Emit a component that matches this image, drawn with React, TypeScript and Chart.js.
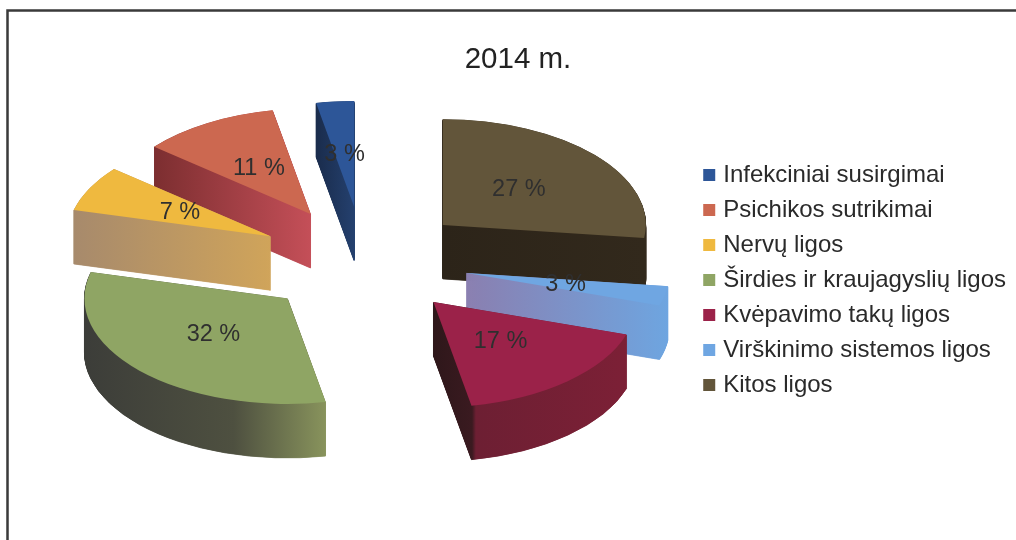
import React, { useEffect, useRef } from "react";
import { Chart, registerables } from "chart.js";

Chart.register(...registerables);

// Listed in legend order; the pie runs counter-clockwise through them from 12 o'clock.
const categories = [
  "Infekciniai susirgimai",
  "Psichikos sutrikimai",
  "Nervų ligos",
  "Širdies ir kraujagyslių ligos",
  "Kvėpavimo takų ligos",
  "Virškinimo sistemos ligos",
  "Kitos ligos",
];
const shares = [3, 11, 7, 32, 17, 3, 27];
const topColors = ["#2d5698", "#cc6850", "#efb93f", "#8fa564", "#9b2249", "#6fa6e2", "#62553a"];
// Side-wall shading, left to right, as [stop, colour] pairs.
const wallShades: [number, string][][] = [
  [[0, "#1a2c4c"], [1, "#24406e"]],
  [[0, "#7c2e30"], [1, "#c44f58"]],
  [[0, "#a78a6c"], [1, "#d0a45a"]],
  [[0, "#3c3d39"], [0.62, "#4e5040"], [1, "#88935c"]],
  [[0, "#2e171a"], [0.2, "#3a1a20"], [0.22, "#6d1f33"], [1, "#7c2036"]],
  [[0, "#8a7fb0"], [1, "#6ea5e0"]],
  [[0, "#2c2419"], [1, "#32291c"]],
];
const paintOrder = ["Kitos ligos", "Infekciniai susirgimai", "Psichikos sutrikimai", "Nervų ligos", "Virškinimo sistemos ligos", "Kvėpavimo takų ligos", "Širdies ir kraujagyslių ligos"];

const TITLE = "2014 m.";
const FONT = "'Liberation Sans', Arial, sans-serif";
const CENTER_X = 364;
const CENTER_Y = 261;
const TILT = 0.52;
const DEPTH = 54;
const RADIUS = 203;
const EXPLODE = 105;
const WALL_STEP = 0.5;

const rev = <T,>(a: T[]) => [...a].reverse();

const pie3d = {
  id: "pie3d",
  beforeDraw(chart: any) {
    const { ctx } = chart;
    ctx.save();
    ctx.fillStyle = "#ffffff";
    ctx.fillRect(0, 0, chart.width, chart.height);
    ctx.strokeStyle = "#3a3a3a";
    ctx.lineWidth = 2.5;
    ctx.beginPath();
    ctx.moveTo(7.5, 560);
    ctx.lineTo(7.5, 10.5);
    ctx.lineTo(1030, 10.5);
    ctx.stroke();
    ctx.restore();
  },
  beforeDatasetDraw(chart: any) {
    const { ctx } = chart;
    const meta = chart.getDatasetMeta(0);
    const labels: string[] = chart.data.labels;
    const drawn = paintOrder.map((n) => labels.indexOf(n));
    const shades = rev(wallShades);

    const place = (arc: any, depth: number) => {
      const mid = (arc.startAngle + arc.endAngle) / 2;
      ctx.translate(CENTER_X - arc.x, CENTER_Y + depth - arc.y * TILT);
      ctx.scale(1, TILT);
      ctx.translate(Math.cos(mid) * EXPLODE, Math.sin(mid) * EXPLODE);
    };

    drawn.forEach((i: number) => {
      const arc = meta.data[i];
      const base = arc.options;
      const xs = [0, Math.cos(arc.startAngle), Math.cos(arc.endAngle)];
      for (const k of [0, Math.PI, Math.PI * 2]) {
        if (arc.startAngle < k && k < arc.endAngle) xs.push(Math.cos(k));
      }
      const x0 = arc.x + Math.min(...xs) * arc.outerRadius;
      const x1 = arc.x + Math.max(...xs) * arc.outerRadius;
      const grad = ctx.createLinearGradient(x0, 0, x1, 0);
      shades[i].forEach(([s, c]) => grad.addColorStop(s, c));
      arc.options = { ...base, backgroundColor: grad, borderColor: grad, borderWidth: 1 };
      for (let d = DEPTH; d > 0; d -= WALL_STEP) {
        ctx.save();
        place(arc, d);
        arc.draw(ctx);
        ctx.restore();
      }
      arc.options = base;
      ctx.save();
      place(arc, 0);
      arc.draw(ctx);
      ctx.restore();
    });

    ctx.save();
    ctx.fillStyle = "#2f2f2f";
    ctx.font = `23.5px ${FONT}`;
    ctx.textAlign = "center";
    ctx.textBaseline = "middle";
    meta.data.forEach((arc: any, i: number) => {
      const mid = (arc.startAngle + arc.endAngle) / 2;
      const p = arc.getCenterPoint();
      const x = CENTER_X + (p.x - arc.x) + Math.cos(mid) * EXPLODE;
      const y = CENTER_Y + (p.y - arc.y + Math.sin(mid) * EXPLODE) * TILT;
      ctx.fillText(`${chart.data.datasets[0].data[i]} %`, x, y);
    });
    ctx.restore();
    return false;
  },
};

export default function App() {
  const ref = useRef<HTMLCanvasElement>(null);
  useEffect(() => {
    const chart = new Chart(ref.current!, {
      type: "pie",
      data: {
        labels: rev(categories),
        datasets: [
          {
            data: rev(shares),
            backgroundColor: rev(topColors),
            borderWidth: 0,
            radius: RADIUS,
          } as any,
        ],
      },
      options: {
        responsive: false,
        animation: false,
        layout: { padding: { left: 20, right: 0, top: 20, bottom: 0 } },
        plugins: {
          tooltip: { enabled: false },
          title: {
            display: true,
            text: TITLE,
            color: "#222222",
            font: { family: FONT, size: 29.5, weight: "normal" },
            padding: { top: 22, bottom: 38 },
          },
          legend: {
            position: "right",
            reverse: true,
            labels: {
              usePointStyle: true,
              pointStyle: "rect",
              boxWidth: 4,
              boxHeight: 12,
              padding: 11,
              color: "#2a2a2a",
              font: { family: FONT, size: 24 },
            },
          },
        },
      },
      plugins: [pie3d],
    } as any);
    return () => chart.destroy();
  }, []);
  return (
    <div style={{ position: "fixed", left: 0, top: 0, width: 1016, height: 540 }}>
      <canvas ref={ref} width={1016} height={540} style={{ display: "block" }} />
    </div>
  );
}
